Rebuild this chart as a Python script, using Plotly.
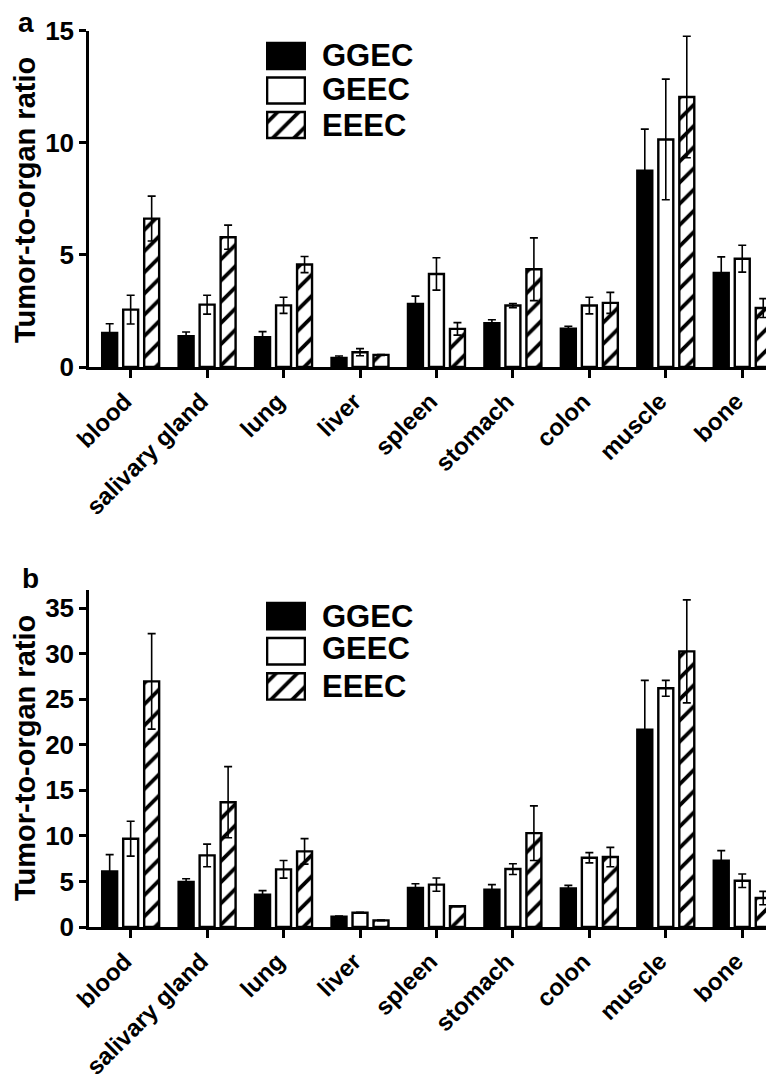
import plotly.graph_objects as go

organs = ["blood", "salivary gland", "lung", "liver", "spleen", "stomach", "colon", "muscle", "bone"]
series = ["GGEC", "GEEC", "EEEC"]

# Panel a
a_ggec = [1.52, 1.37, 1.33, 0.40, 2.81, 1.95, 1.71, 8.76, 4.20]
a_ggec_err = [0.41, 0.19, 0.25, 0.09, 0.35, 0.16, 0.11, 1.85, 0.71]
a_geec = [2.56, 2.78, 2.75, 0.66, 4.15, 2.74, 2.74, 10.15, 4.83]
a_geec_err = [0.64, 0.42, 0.36, 0.16, 0.72, 0.09, 0.37, 2.69, 0.60]
a_eeec = [6.62, 5.79, 4.57, 0.54, 1.70, 4.36, 2.86, 12.04, 2.63]
a_eeec_err = [1.00, 0.54, 0.36, 0.02, 0.28, 1.40, 0.47, 2.71, 0.42]

# Panel b
b_ggec = [6.11, 4.94, 3.55, 1.13, 4.28, 4.10, 4.24, 21.65, 7.28]
b_ggec_err = [1.83, 0.36, 0.44, 0.07, 0.47, 0.55, 0.33, 5.42, 1.10]
b_geec = [9.69, 7.86, 6.33, 1.57, 4.65, 6.36, 7.60, 26.20, 5.08]
b_geec_err = [1.91, 1.24, 0.97, 0.05, 0.73, 0.59, 0.56, 0.87, 0.74]
b_eeec = [26.96, 13.70, 8.30, 0.73, 2.27, 10.30, 7.68, 30.25, 3.18]
b_eeec_err = [5.24, 3.90, 1.40, 0.03, 0.05, 3.00, 1.06, 5.65, 0.73]

ytick_a = [0, 5, 10, 15]
ytick_b = [0, 5, 10, 15, 20, 25, 30, 35]

W, H = 774, 1084
FONT = "Liberation Sans, Arial, Helvetica, sans-serif"

styles = {
    "GGEC": dict(color="black", shape=""),
    "GEEC": dict(color="white", shape=""),
    "EEEC": dict(color="white", shape="/"),
}


def make_marker(name):
    st = styles[name]
    marker = dict(color=st["color"], line=dict(color="black", width=2.4))
    if st["shape"]:
        marker["pattern"] = dict(shape=st["shape"], fgcolor="black", bgcolor="white",
                                 size=15, solidity=0.25, fillmode="replace")
    return marker


fig = go.Figure()


def add_panel(vals, errs, xa, ya):
    for name, v, e in zip(series, vals, errs):
        fig.add_trace(go.Bar(
            x=organs, y=v, name=name, marker=make_marker(name), showlegend=False,
            xaxis=xa, yaxis=ya,
            error_y=dict(type="data", array=e, symmetric=True, color="black",
                         thickness=1.6, width=4),
        ))


add_panel([a_ggec, a_geec, a_eeec], [a_ggec_err, a_geec_err, a_eeec_err], "x", "y")
add_panel([b_ggec, b_geec, b_eeec], [b_ggec_err, b_geec_err, b_eeec_err], "x2", "y2")


def legend_swatch(xa, ya):
    for name in series:
        fig.add_trace(go.Bar(
            x=[1], y=[name], orientation="h", showlegend=False,
            xaxis=xa, yaxis=ya, width=0.75, offsetgroup="leg", offset=-0.375,
            marker=make_marker(name), hoverinfo="skip",
        ))


legend_swatch("x3", "y3")
legend_swatch("x4", "y4")


def py(px):
    return (H - px) / H


def px_x(px):
    return px / W


xdom = [px_x(81), px_x(773)]
xrange_ = [-0.545, 8.507]
tickfont_cat = dict(family=FONT, size=24, color="black", weight="bold")
tickfont_num = dict(family=FONT, size=26, color="black", weight="bold")

common_x = dict(
    domain=xdom, range=xrange_, showline=True, linecolor="black", linewidth=2.5,
    ticks="outside", ticklen=8, tickwidth=2.5, tickcolor="black", tickangle=-45,
    tickfont=tickfont_cat, showgrid=False, zeroline=False, automargin=False,
    categoryorder="array", categoryarray=organs, ticklabelshift=-6,
)
common_y = dict(
    showline=True, linecolor="black", linewidth=2.5, ticks="outside", ticklen=7,
    tickwidth=2.5, tickcolor="black", tickfont=tickfont_num, showgrid=False,
    zeroline=False, automargin=False,
)

leg_x = dict(domain=[px_x(258), px_x(298)], range=[-0.03, 1.03], visible=False, fixedrange=True)
leg_y = dict(range=[2.5, -0.5], visible=False, fixedrange=True, type="category",
             categoryorder="array", categoryarray=series)

fig.update_layout(
    width=W, height=H,
    margin=dict(l=0, r=0, t=0, b=0),
    paper_bgcolor="white", plot_bgcolor="rgba(0,0,0,0)",
    barmode="group", bargap=0.176, bargroupgap=0.287,
    font=dict(family=FONT, color="black"),
    xaxis=dict(anchor="y", **common_x),
    yaxis=dict(anchor="x", domain=[py(359), py(22.7)], range=[0, 15], tickvals=ytick_a, **common_y),
    xaxis2=dict(anchor="y2", **common_x),
    yaxis2=dict(anchor="x2", domain=[py(919), py(581.9)], range=[0, 37], tickvals=ytick_b, **common_y),
    xaxis3=dict(anchor="y3", **leg_x),
    yaxis3=dict(anchor="x3", domain=[py(134.25), py(30.75)], **leg_y),
    xaxis4=dict(anchor="y4", **leg_x),
    yaxis4=dict(anchor="x4", domain=[py(696), py(590.5)], **leg_y),
)

annots = []
title_font = dict(family=FONT, size=29, color="black", weight="bold")
for yc in [192, 750]:
    annots.append(dict(text="Tumor-to-organ ratio", x=px_x(17), y=py(yc), xref="paper", yref="paper",
                       textangle=-90, showarrow=False, font=title_font,
                       xanchor="center", yanchor="middle"))
for lab, (xc, yc) in zip(["a", "b"], [(18, 14), (22, 570)]):
    annots.append(dict(text=lab, x=px_x(xc), y=py(yc), xref="paper", yref="paper",
                       showarrow=False, font=dict(family=FONT, size=28, color="black", weight="bold"),
                       xanchor="center", yanchor="middle"))
leg_font = dict(family=FONT, size=31, color="black", weight="bold")
for rows in [[48, 81.5, 117], [608, 640.5, 678.5]]:
    for s, yc in zip(series, rows):
        annots.append(dict(text=s, x=px_x(312), y=py(yc), xref="paper", yref="paper",
                           showarrow=False, font=leg_font, xanchor="left", yanchor="middle"))
fig.update_layout(annotations=annots)

fig.write_html("out.html")
